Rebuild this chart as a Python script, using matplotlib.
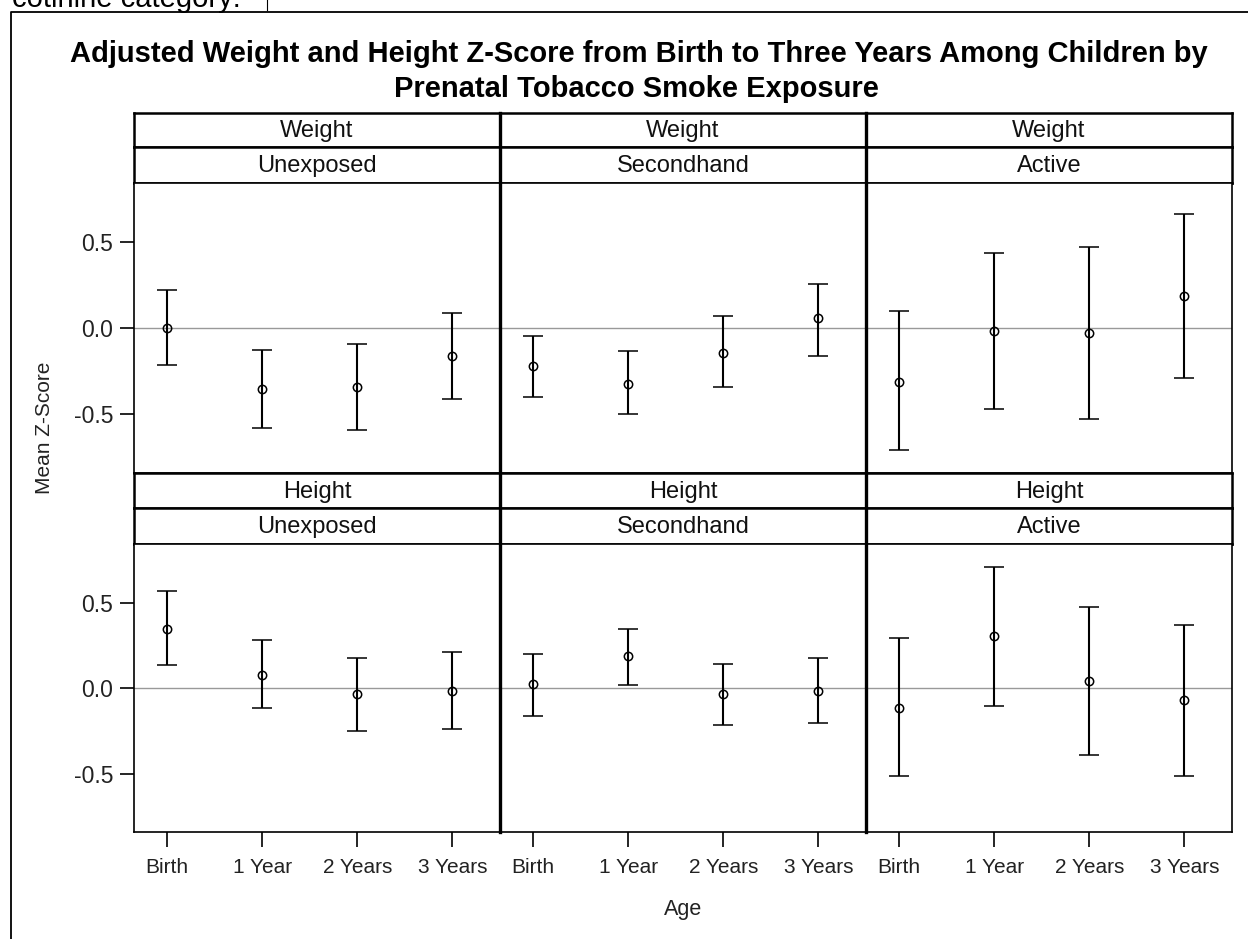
import numpy as np
import matplotlib
matplotlib.use("Agg")
import matplotlib.pyplot as plt
from matplotlib.lines import Line2D

plt.rcParams["font.family"] = ["Liberation Sans", "DejaVu Sans"]

# ── Data ──────────────────────────────────────────────────────────────────────
ages = ["Birth", "1 Year", "2 Years", "3 Years"]
exposures = ["Unexposed", "Secondhand", "Active"]
measures = ["Weight", "Height"]

# rows: Unexposed, Secondhand, Active ; columns: Birth .. 3 Years
weight_mean = [[0.00, -0.35, -0.34, -0.16],
               [-0.22, -0.32, -0.14, 0.06],
               [-0.31, -0.015, -0.025, 0.19]]
weight_lower = [[-0.215, -0.58, -0.59, -0.41],
                [-0.40, -0.50, -0.34, -0.16],
                [-0.705, -0.47, -0.525, -0.29]]
weight_upper = [[0.225, -0.125, -0.09, 0.09],
                [-0.045, -0.13, 0.075, 0.26],
                [0.10, 0.44, 0.475, 0.665]]

height_mean = [[0.35, 0.08, -0.03, -0.015],
               [0.025, 0.19, -0.035, -0.015],
               [-0.115, 0.305, 0.045, -0.07]]
height_lower = [[0.135, -0.115, -0.25, -0.235],
                [-0.16, 0.02, -0.215, -0.205],
                [-0.51, -0.10, -0.39, -0.51]]
height_upper = [[0.57, 0.285, 0.18, 0.215],
                [0.20, 0.35, 0.145, 0.18],
                [0.295, 0.71, 0.475, 0.37]]

y_ticks = [-0.5, 0.0, 0.5]
y_tick_labels = ["-0.5", "0.0", "0.5"]

# ── Layout (pixels) ───────────────────────────────────────────────────────────
W, H = 1248, 939
COL_X = [134, 500, 866, 1232]
ROWS = [  # (strip1 top, strip2 top, plot top, plot bottom)
    (113, 147, 183, 473),
    (473, 508, 544, 832),
]


def rect(x0, y0, x1, y1):
    return [x0 / W, 1 - y1 / H, (x1 - x0) / W, (y1 - y0) / H]


fig = plt.figure(figsize=(W / 100, H / 100), dpi=100)

series = [(weight_mean, weight_lower, weight_upper),
          (height_mean, height_lower, height_upper)]

for r, (s1, s2, p0, p1) in enumerate(ROWS):
    means, lows, highs = series[r]
    for c in range(3):
        x0, x1 = COL_X[c], COL_X[c + 1]

        # strip headers
        for (ya, yb, label) in [(s1, s2, measures[r]), (s2, p0, exposures[c])]:
            sax = fig.add_axes(rect(x0, ya, x1, yb))
            sax.set_xticks([])
            sax.set_yticks([])
            for sp in sax.spines.values():
                sp.set_linewidth(1.8)
            sax.text(0.5, 0.47, label, ha="center", va="center",
                     fontsize=17, color="#111111", transform=sax.transAxes)

        ax = fig.add_axes(rect(x0, p0, x1, p1))
        for sp in ax.spines.values():
            sp.set_linewidth(1.2)
        xs = np.arange(len(ages))
        m = np.array(means[c])
        lo = np.array(lows[c])
        hi = np.array(highs[c])
        ax.axhline(0, color="#999999", linewidth=1.0, zorder=1)
        ax.errorbar(xs, m, yerr=[m - lo, hi - m], fmt="o", mfc="none",
                    mec="black", ms=6, mew=1.1, ecolor="black",
                    elinewidth=1.5, capsize=7.5, capthick=1.5, zorder=3)
        ax.set_xlim(-0.35, 3.5)
        ax.set_ylim(-0.84, 0.845)

        if c == 0:
            ax.set_yticks(y_ticks)
            ax.set_yticklabels(y_tick_labels)
            ax.tick_params(axis="y", direction="out", length=10, width=1.2,
                           pad=5, labelsize=16.5, labelcolor="#222222")
        else:
            ax.set_yticks([])

        if r == 1:
            ax.set_xticks(xs)
            ax.set_xticklabels(ages)
            ax.tick_params(axis="x", direction="out", length=11, width=1.2,
                           pad=8, labelsize=15, labelcolor="#222222")
        else:
            ax.set_xticks([])

# thick column dividers
for x in COL_X[1:3]:
    fig.add_artist(Line2D([x / W, x / W], [1 - 113 / H, 1 - 832 / H],
                          transform=fig.transFigure, color="black", linewidth=2.4))

# axis labels
fig.text(45 / W, 1 - 428 / H, "Mean Z-Score", rotation=90, ha="center",
         va="center", fontsize=15, color="#222222")
fig.text(683 / W, 1 - 909 / H, "Age", ha="center", va="center",
         fontsize=15.5, color="#222222")

# title
fig.text(639 / W, 1 - 62 / H,
         "Adjusted Weight and Height Z-Score from Birth to Three Years Among Children by",
         ha="center", va="baseline", fontsize=21, fontweight="bold")
fig.text(636 / W, 1 - 97 / H, "Prenatal Tobacco Smoke Exposure",
         ha="center", va="baseline", fontsize=21, fontweight="bold")

# surrounding document frame and clipped caption
fig.add_artist(Line2D([11 / W, 11 / W, 1.0], [0.0, 1 - 12 / H, 1 - 12 / H],
                      transform=fig.transFigure, color="black", linewidth=1.3))
fig.text(12 / W, 1 - 7 / H, "cotinine category:", ha="left", va="baseline",
         fontsize=21)
fig.add_artist(Line2D([267 / W, 267 / W], [1.0, 1 - 10 / H],
                      transform=fig.transFigure, color="black", linewidth=0.8))

fig.savefig("out.png", dpi=100)
